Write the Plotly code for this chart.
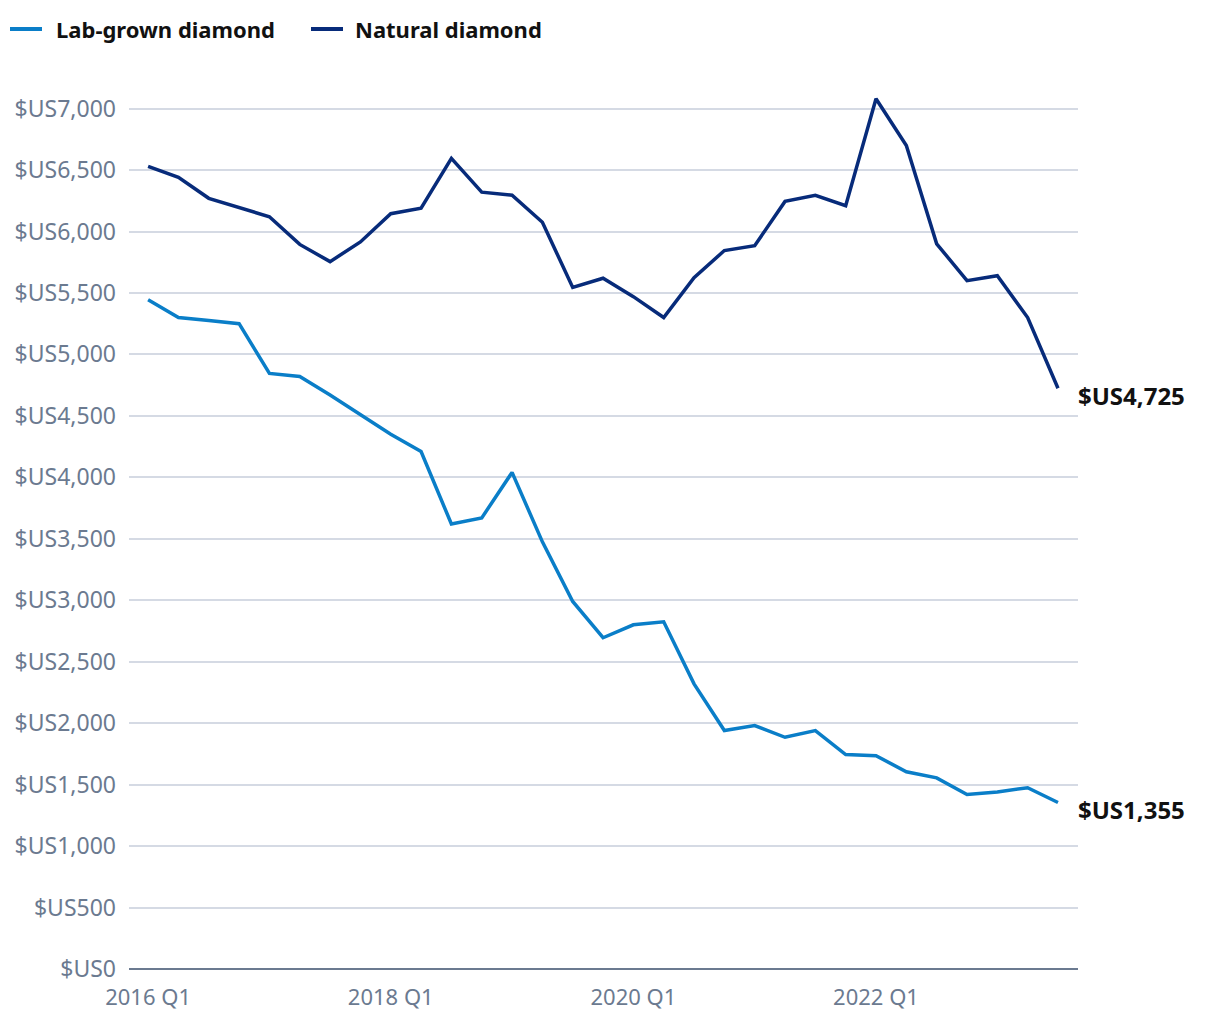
import plotly.graph_objects as go

quarters = list(range(31))
tick_positions = [0, 8, 16, 24]
tick_labels = ["2016 Q1", "2018 Q1", "2020 Q1", "2022 Q1"]

natural = [6530, 6440, 6270, 6195, 6120, 5895, 5755, 5915, 6145, 6190,
           6595, 6320, 6295, 6075, 5545, 5620, 5470, 5300, 5625, 5845,
           5885, 6245, 6295, 6210, 7080, 6700, 5900, 5600, 5640, 5300, 4725]
lab = [5445, 5300, 5275, 5250, 4845, 4820, 4670, 4510, 4350, 4210,
       3620, 3670, 4040, 3475, 2990, 2695, 2800, 2825, 2320, 1940,
       1980, 1885, 1940, 1745, 1735, 1605, 1555, 1420, 1440, 1475, 1355]

y_ticks = list(range(0, 7001, 500))
y_labels = [f"$US{v:,}" for v in y_ticks]

LAB_C = "#0a7ec8"
NAT_C = "#072b7a"
FONT = "Noto Sans"
TICK_C = "#6b7a90"

OFF = 8  # page body margin offset
W, H = 1220, 1020
ML, MR, MT, MB = 129 - OFF, 142 + OFF, 84 - OFF, 51 + OFF
PW, PH = W - ML - MR, H - MT - MB

def px_x(p):
    return (p - OFF - ML) / PW

def px_y(p):
    return (H - MB - (p - OFF)) / PH

fig = go.Figure()
fig.add_trace(go.Scatter(x=quarters, y=lab, mode="lines", name="Lab-grown diamond",
                         line=dict(color=LAB_C, width=3.5)))
fig.add_trace(go.Scatter(x=quarters, y=natural, mode="lines", name="Natural diamond",
                         line=dict(color=NAT_C, width=3.5)))

for val in [natural[-1], lab[-1]]:
    fig.add_annotation(x=quarters[-1], y=val, text=f"<b>$US{val:,}</b>", showarrow=False,
                       xanchor="left", yanchor="middle", xshift=18, yshift=-7,
                       font=dict(family=FONT, size=24, color="#111111"))

# custom legend
legend_items = [("Lab-grown diamond", LAB_C, 10, 42, 54),
                ("Natural diamond", NAT_C, 311, 343, 353)]
ly = 29
for name, col, x0, x1, tx in legend_items:
    fig.add_shape(type="line", xref="paper", yref="paper",
                  x0=px_x(x0), x1=px_x(x1), y0=px_y(ly), y1=px_y(ly),
                  line=dict(color=col, width=4))
    fig.add_annotation(xref="paper", yref="paper", x=px_x(tx), y=px_y(ly),
                       text=f"<b>{name}</b>", showarrow=False, xanchor="left",
                       yanchor="middle", font=dict(family=FONT, size=22, color="#111111"))

fig.update_layout(
    width=W, height=H,
    margin=dict(l=ML, r=MR, t=MT, b=MB, autoexpand=False),
    paper_bgcolor="white", plot_bgcolor="white",
    font=dict(family=FONT, color=TICK_C),
    showlegend=False,
    xaxis=dict(range=[-0.63, 30.66], tickmode="array", tickvals=tick_positions,
               ticktext=tick_labels, showgrid=False, zeroline=False, automargin=False,
               showline=False, ticks="", ticklabelstandoff=13,
               tickfont=dict(size=22, color=TICK_C)),
    yaxis=dict(range=[0, 7200], tickmode="array", tickvals=y_ticks, ticktext=y_labels,
               showgrid=True, gridcolor="#d5dae4", gridwidth=1.5, zeroline=True,
               zerolinecolor=TICK_C, zerolinewidth=2, showline=False, ticks="",
               automargin=False, ticklabelstandoff=12,
               tickfont=dict(size=23, color=TICK_C)),
)

fig.write_html("out.html")
